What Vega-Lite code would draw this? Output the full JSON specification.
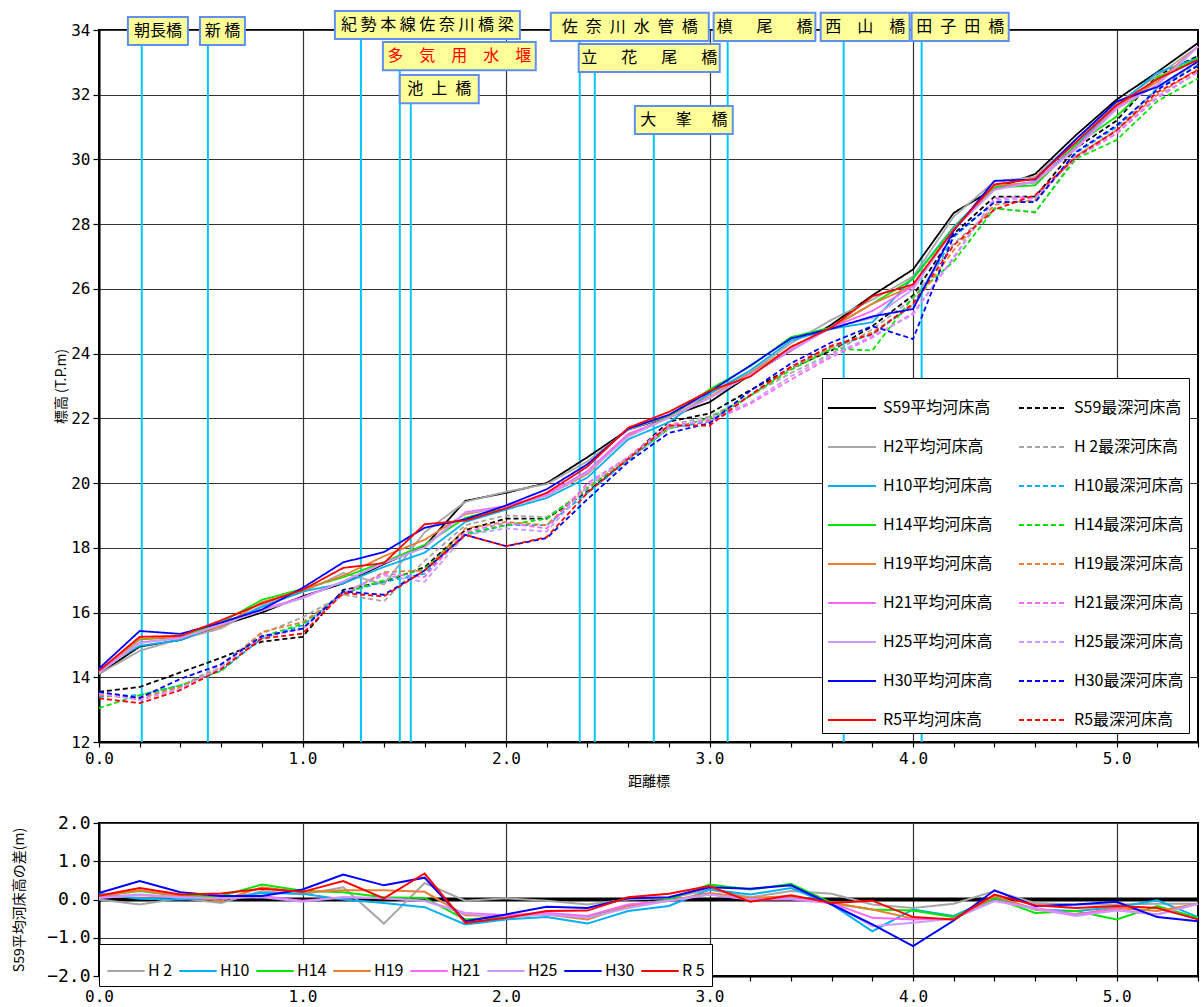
{
"$schema":"https://vega.github.io/schema/vega-lite/v6.json",
"padding":{"left":11,"top":8,"right":1,"bottom":2},
"background":"white",
"datasets":{
"series":[
{"code":"S59m","label":"S59平均河床高"},{"code":"S59d","label":"S59最深河床高"},
{"code":"H2m","label":"H2平均河床高"},{"code":"H2d","label":"H 2最深河床高"},
{"code":"H10m","label":"H10平均河床高"},{"code":"H10d","label":"H10最深河床高"},
{"code":"H14m","label":"H14平均河床高"},{"code":"H14d","label":"H14最深河床高"},
{"code":"H19m","label":"H19平均河床高"},{"code":"H19d","label":"H19最深河床高"},
{"code":"H21m","label":"H21平均河床高"},{"code":"H21d","label":"H21最深河床高"},
{"code":"H25m","label":"H25平均河床高"},{"code":"H25d","label":"H25最深河床高"},
{"code":"H30m","label":"H30平均河床高"},{"code":"H30d","label":"H30最深河床高"},
{"code":"R5m","label":"R5平均河床高"},{"code":"R5d","label":"R5最深河床高"}],
"profile":[
{"k":0,"S59m":14.10,"S59d":13.55,"H2m":14.10,"H2d":13.5,"H10m":14.25,"H10d":13.4,"H14m":14.19,"H14d":13.05,"H19m":14.19,"H19d":13.45,"H21m":14.16,"H21d":13.5,"H25m":14.14,"H25d":13.5,"H30m":14.27,"H30d":13.55,"R5m":14.20,"R5d":13.35},
{"k":0.2,"S59m":14.95,"S59d":13.7,"H2m":14.82,"H2d":13.4,"H10m":14.97,"H10d":13.45,"H14m":15.17,"H14d":13.45,"H19m":15.19,"H19d":13.35,"H21m":15.08,"H21d":13.3,"H25m":15.06,"H25d":13.3,"H30m":15.43,"H30d":13.36,"R5m":15.25,"R5d":13.2},
{"k":0.4,"S59m":15.15,"S59d":14.15,"H2m":15.18,"H2d":13.7,"H10m":15.15,"H10d":13.75,"H14m":15.24,"H14d":13.75,"H19m":15.24,"H19d":13.7,"H21m":15.21,"H21d":13.65,"H25m":15.21,"H25d":13.65,"H30m":15.34,"H30d":13.95,"R5m":15.28,"R5d":13.6},
{"k":0.6,"S59m":15.60,"S59d":14.6,"H2m":15.51,"H2d":14.4,"H10m":15.63,"H10d":14.2,"H14m":15.69,"H14d":14.2,"H19m":15.57,"H19d":14.3,"H21m":15.63,"H21d":14.3,"H25m":15.63,"H25d":14.3,"H30m":15.69,"H30d":14.4,"R5m":15.76,"R5d":14.25},
{"k":0.8,"S59m":16.00,"S59d":15.1,"H2m":16.22,"H2d":15.35,"H10m":16.17,"H10d":15.2,"H14m":16.39,"H14d":15.25,"H19m":16.32,"H19d":15.4,"H21m":16.09,"H21d":15.25,"H25m":16.06,"H25d":15.25,"H30m":16.09,"H30d":15.27,"R5m":16.28,"R5d":15.2},
{"k":1.0,"S59m":16.50,"S59d":15.25,"H2m":16.63,"H2d":15.85,"H10m":16.65,"H10d":15.6,"H14m":16.73,"H14d":15.65,"H19m":16.69,"H19d":15.7,"H21m":16.47,"H21d":15.5,"H25m":16.44,"H25d":15.5,"H30m":16.76,"H30d":15.5,"R5m":16.70,"R5d":15.35},
{"k":1.2,"S59m":16.90,"S59d":16.7,"H2m":17.22,"H2d":16.55,"H10m":16.90,"H10d":16.6,"H14m":17.09,"H14d":16.6,"H19m":17.14,"H19d":16.55,"H21m":16.96,"H21d":16.6,"H25m":16.96,"H25d":16.6,"H30m":17.55,"H30d":16.65,"R5m":17.38,"R5d":16.6},
{"k":1.4,"S59m":17.50,"S59d":16.95,"H2m":16.87,"H2d":16.35,"H10m":17.41,"H10d":16.95,"H14m":17.56,"H14d":17.0,"H19m":17.74,"H19d":17.25,"H21m":17.53,"H21d":17.2,"H25m":17.53,"H25d":17.15,"H30m":17.87,"H30d":16.55,"R5m":17.53,"R5d":16.5},
{"k":1.6,"S59m":18.05,"S59d":17.4,"H2m":18.48,"H2d":17.6,"H10m":17.85,"H10d":17.2,"H14m":18.09,"H14d":17.35,"H19m":18.25,"H19d":17.3,"H21m":18.02,"H21d":17.1,"H25m":18.01,"H25d":16.95,"H30m":18.62,"H30d":17.3,"R5m":18.73,"R5d":17.3},
{"k":1.8,"S59m":19.45,"S59d":18.55,"H2m":19.42,"H2d":18.7,"H10m":18.80,"H10d":18.4,"H14m":18.93,"H14d":18.45,"H19m":19.04,"H19d":18.6,"H21m":19.10,"H21d":18.5,"H25m":19.08,"H25d":18.4,"H30m":18.88,"H30d":18.4,"R5m":18.84,"R5d":18.4},
{"k":2.0,"S59m":19.70,"S59d":18.9,"H2m":19.73,"H2d":19.0,"H10m":19.18,"H10d":18.7,"H14m":19.24,"H14d":18.7,"H19m":19.27,"H19d":18.8,"H21m":19.29,"H21d":18.77,"H25m":19.24,"H25d":18.6,"H30m":19.31,"H30d":18.05,"R5m":19.22,"R5d":18.05},
{"k":2.2,"S59m":20.00,"S59d":18.9,"H2m":19.97,"H2d":18.95,"H10m":19.54,"H10d":18.7,"H14m":19.63,"H14d":18.9,"H19m":19.61,"H19d":18.7,"H21m":19.65,"H21d":18.6,"H25m":19.61,"H25d":18.5,"H30m":19.81,"H30d":18.3,"R5m":19.70,"R5d":18.33},
{"k":2.4,"S59m":20.80,"S59d":19.75,"H2m":20.67,"H2d":19.8,"H10m":20.17,"H10d":19.7,"H14m":20.34,"H14d":19.85,"H19m":20.28,"H19d":19.9,"H21m":20.37,"H21d":20.0,"H25m":20.32,"H25d":19.9,"H30m":20.58,"H30d":19.5,"R5m":20.51,"R5d":19.7},
{"k":2.6,"S59m":21.65,"S59d":20.75,"H2m":21.65,"H2d":20.8,"H10m":21.35,"H10d":20.7,"H14m":21.48,"H14d":20.75,"H19m":21.48,"H19d":20.75,"H21m":21.52,"H21d":20.8,"H25m":21.43,"H25d":20.8,"H30m":21.68,"H30d":20.65,"R5m":21.71,"R5d":20.75},
{"k":2.8,"S59m":22.05,"S59d":21.9,"H2m":22.08,"H2d":21.8,"H10m":21.88,"H10d":21.7,"H14m":22.05,"H14d":21.68,"H19m":22.02,"H19d":21.75,"H21m":22.01,"H21d":21.8,"H25m":22.02,"H25d":21.7,"H30m":22.11,"H30d":21.55,"R5m":22.20,"R5d":21.78},
{"k":3.0,"S59m":22.50,"S59d":22.15,"H2m":22.76,"H2d":22.05,"H10m":22.76,"H10d":21.9,"H14m":22.89,"H14d":22.0,"H19m":22.67,"H19d":21.95,"H21m":22.63,"H21d":21.9,"H25m":22.63,"H25d":22.0,"H30m":22.82,"H30d":21.85,"R5m":22.85,"R5d":21.78},
{"k":3.2,"S59m":23.35,"S59d":22.87,"H2m":23.41,"H2d":22.7,"H10m":23.48,"H10d":22.7,"H14m":23.61,"H14d":22.7,"H19m":23.39,"H19d":22.7,"H21m":23.35,"H21d":22.45,"H25m":23.35,"H25d":22.5,"H30m":23.63,"H30d":22.85,"R5m":23.29,"R5d":22.72},
{"k":3.4,"S59m":24.10,"S59d":23.55,"H2m":24.32,"H2d":23.4,"H10m":24.40,"H10d":23.55,"H14m":24.51,"H14d":23.5,"H19m":24.19,"H19d":23.55,"H21m":24.10,"H21d":23.2,"H25m":24.13,"H25d":23.3,"H30m":24.47,"H30d":23.7,"R5m":24.21,"R5d":23.6},
{"k":3.6,"S59m":24.90,"S59d":24.1,"H2m":25.05,"H2d":24.0,"H10m":24.77,"H10d":24.2,"H14m":24.81,"H14d":24.15,"H19m":24.81,"H19d":24.2,"H21m":24.81,"H21d":23.9,"H25m":24.81,"H25d":23.95,"H30m":24.77,"H30d":24.35,"R5m":24.81,"R5d":24.25},
{"k":3.8,"S59m":25.80,"S59d":24.85,"H2m":25.67,"H2d":24.75,"H10m":24.97,"H10d":24.6,"H14m":25.54,"H14d":24.1,"H19m":25.54,"H19d":24.65,"H21m":25.32,"H21d":24.5,"H25m":25.10,"H25d":24.55,"H30m":25.15,"H30d":24.85,"R5m":25.77,"R5d":24.6},
{"k":4.0,"S59m":26.60,"S59d":25.8,"H2m":26.38,"H2d":25.7,"H10m":26.34,"H10d":25.5,"H14m":26.31,"H14d":25.75,"H19m":26.10,"H19d":25.5,"H21m":26.08,"H21d":25.25,"H25m":25.99,"H25d":25.2,"H30m":25.38,"H30d":24.45,"R5m":26.14,"R5d":25.55},
{"k":4.2,"S59m":28.35,"S59d":27.7,"H2m":28.24,"H2d":27.4,"H10m":27.92,"H10d":27.6,"H14m":27.89,"H14d":26.85,"H19m":27.83,"H19d":27.2,"H21m":27.85,"H21d":26.95,"H25m":27.85,"H25d":27.0,"H30m":27.80,"H30d":27.65,"R5m":27.83,"R5d":27.35},
{"k":4.4,"S59m":29.10,"S59d":28.85,"H2m":29.32,"H2d":28.5,"H10m":29.16,"H10d":28.7,"H14m":29.13,"H14d":28.48,"H19m":29.19,"H19d":28.6,"H21m":29.07,"H21d":28.8,"H25m":29.06,"H25d":28.75,"H30m":29.34,"H30d":28.68,"R5m":29.23,"R5d":28.45},
{"k":4.6,"S59m":29.55,"S59d":28.85,"H2m":29.46,"H2d":28.35,"H10m":29.29,"H10d":28.7,"H14m":29.20,"H14d":28.38,"H19m":29.29,"H19d":28.75,"H21m":29.33,"H21d":28.85,"H25m":29.31,"H25d":28.8,"H30m":29.38,"H30d":28.68,"R5m":29.40,"R5d":28.9},
{"k":4.8,"S59m":30.75,"S59d":30.35,"H2m":30.62,"H2d":30.1,"H10m":30.45,"H10d":30.2,"H14m":30.45,"H14d":30.02,"H19m":30.36,"H19d":30.1,"H21m":30.36,"H21d":30.05,"H25m":30.32,"H25d":30.1,"H30m":30.62,"H30d":30.23,"R5m":30.53,"R5d":30.08},
{"k":5.0,"S59m":31.85,"S59d":31.2,"H2m":31.72,"H2d":30.9,"H10m":31.65,"H10d":31.0,"H14m":31.33,"H14d":30.6,"H19m":31.63,"H19d":30.9,"H21m":31.59,"H21d":30.8,"H25m":31.56,"H25d":30.85,"H30m":31.79,"H30d":31.05,"R5m":31.68,"R5d":30.9},
{"k":5.2,"S59m":32.70,"S59d":32.6,"H2m":32.59,"H2d":32.2,"H10m":32.68,"H10d":32.2,"H14m":32.53,"H14d":31.8,"H19m":32.40,"H19d":32.0,"H21m":32.31,"H21d":31.9,"H25m":32.31,"H25d":31.95,"H30m":32.24,"H30d":32.15,"R5m":32.48,"R5d":32.08},
{"k":5.4,"S59m":33.60,"S59d":33.2,"H2m":33.49,"H2d":33.0,"H10m":33.14,"H10d":32.9,"H14m":33.12,"H14d":32.5,"H19m":33.49,"H19d":32.8,"H21m":33.49,"H21d":32.7,"H25m":33.49,"H25d":32.7,"H30m":33.03,"H30d":32.9,"R5m":33.08,"R5d":32.76}
],
"diff":[
{"k":0,"H 2":0.00,"H10":0.15,"H14":0.09,"H19":0.09,"H21":0.06,"H25":0.04,"H30":0.17,"R 5":0.10},
{"k":0.2,"H 2":-0.13,"H10":0.02,"H14":0.22,"H19":0.24,"H21":0.13,"H25":0.11,"H30":0.48,"R 5":0.30},
{"k":0.4,"H 2":0.03,"H10":0.00,"H14":0.09,"H19":0.09,"H21":0.06,"H25":0.06,"H30":0.19,"R 5":0.13},
{"k":0.6,"H 2":-0.09,"H10":0.03,"H14":0.09,"H19":-0.03,"H21":0.03,"H25":0.03,"H30":0.09,"R 5":0.16},
{"k":0.8,"H 2":0.22,"H10":0.17,"H14":0.39,"H19":0.32,"H21":0.09,"H25":0.06,"H30":0.09,"R 5":0.28},
{"k":1.0,"H 2":0.13,"H10":0.15,"H14":0.23,"H19":0.19,"H21":-0.03,"H25":-0.06,"H30":0.26,"R 5":0.20},
{"k":1.2,"H 2":0.32,"H10":0.00,"H14":0.19,"H19":0.24,"H21":0.06,"H25":0.06,"H30":0.65,"R 5":0.48},
{"k":1.4,"H 2":-0.63,"H10":-0.09,"H14":0.06,"H19":0.24,"H21":0.03,"H25":0.03,"H30":0.37,"R 5":0.03},
{"k":1.6,"H 2":0.43,"H10":-0.20,"H14":0.04,"H19":0.20,"H21":-0.03,"H25":-0.04,"H30":0.57,"R 5":0.68},
{"k":1.8,"H 2":-0.03,"H10":-0.65,"H14":-0.52,"H19":-0.41,"H21":-0.35,"H25":-0.37,"H30":-0.57,"R 5":-0.61},
{"k":2.0,"H 2":0.03,"H10":-0.52,"H14":-0.46,"H19":-0.43,"H21":-0.41,"H25":-0.46,"H30":-0.39,"R 5":-0.48},
{"k":2.2,"H 2":-0.03,"H10":-0.46,"H14":-0.37,"H19":-0.39,"H21":-0.35,"H25":-0.39,"H30":-0.19,"R 5":-0.30},
{"k":2.4,"H 2":-0.13,"H10":-0.63,"H14":-0.46,"H19":-0.52,"H21":-0.43,"H25":-0.48,"H30":-0.22,"R 5":-0.29},
{"k":2.6,"H 2":0.00,"H10":-0.30,"H14":-0.17,"H19":-0.17,"H21":-0.13,"H25":-0.22,"H30":0.03,"R 5":0.06},
{"k":2.8,"H 2":0.03,"H10":-0.17,"H14":0.00,"H19":-0.03,"H21":-0.04,"H25":-0.03,"H30":0.06,"R 5":0.15},
{"k":3.0,"H 2":0.26,"H10":0.26,"H14":0.39,"H19":0.17,"H21":0.13,"H25":0.13,"H30":0.32,"R 5":0.35},
{"k":3.2,"H 2":0.06,"H10":0.13,"H14":0.26,"H19":0.04,"H21":0.00,"H25":0.00,"H30":0.28,"R 5":-0.06},
{"k":3.4,"H 2":0.22,"H10":0.30,"H14":0.41,"H19":0.09,"H21":0.00,"H25":0.03,"H30":0.37,"R 5":0.11},
{"k":3.6,"H 2":0.15,"H10":-0.13,"H14":-0.09,"H19":-0.09,"H21":-0.09,"H25":-0.09,"H30":-0.13,"R 5":-0.09},
{"k":3.8,"H 2":-0.13,"H10":-0.83,"H14":-0.26,"H19":-0.26,"H21":-0.48,"H25":-0.70,"H30":-0.65,"R 5":-0.03},
{"k":4.0,"H 2":-0.22,"H10":-0.26,"H14":-0.29,"H19":-0.50,"H21":-0.52,"H25":-0.61,"H30":-1.22,"R 5":-0.46},
{"k":4.2,"H 2":-0.11,"H10":-0.43,"H14":-0.46,"H19":-0.52,"H21":-0.50,"H25":-0.50,"H30":-0.55,"R 5":-0.52},
{"k":4.4,"H 2":0.22,"H10":0.06,"H14":0.03,"H19":0.09,"H21":-0.03,"H25":-0.04,"H30":0.24,"R 5":0.13},
{"k":4.6,"H 2":-0.09,"H10":-0.26,"H14":-0.35,"H19":-0.26,"H21":-0.22,"H25":-0.24,"H30":-0.17,"R 5":-0.15},
{"k":4.8,"H 2":-0.13,"H10":-0.30,"H14":-0.30,"H19":-0.39,"H21":-0.39,"H25":-0.43,"H30":-0.13,"R 5":-0.22},
{"k":5.0,"H 2":-0.13,"H10":-0.20,"H14":-0.52,"H19":-0.22,"H21":-0.26,"H25":-0.29,"H30":-0.06,"R 5":-0.17},
{"k":5.2,"H 2":-0.11,"H10":-0.02,"H14":-0.17,"H19":-0.30,"H21":-0.39,"H25":-0.39,"H30":-0.46,"R 5":-0.22},
{"k":5.4,"H 2":-0.11,"H10":-0.46,"H14":-0.48,"H19":-0.11,"H21":-0.11,"H25":-0.11,"H30":-0.57,"R 5":-0.52}
],
"bridges":[
{"name":"朝長橋","label":"朝長橋","kind":"橋","km":0.21,"x1":0.142,"x2":0.437,"lo":33.54,"hi":34.40},
{"name":"新橋","label":"新 橋","kind":"橋","km":0.535,"x1":0.496,"x2":0.717,"lo":33.54,"hi":34.40},
{"name":"紀勢本線佐奈川橋梁","label":"紀 勢 本 線 佐 奈 川 橋 梁","kind":"橋","km":1.287,"x1":1.159,"x2":2.068,"lo":33.72,"hi":34.59},
{"name":"多気用水堰","label":"多\u3000気\u3000用\u3000水\u3000堰","kind":"堰","km":1.478,"x1":1.395,"x2":2.146,"lo":32.76,"hi":33.63},
{"name":"池上橋","label":"池\u2002上\u2002橋","kind":"橋","km":1.532,"x1":1.478,"x2":1.866,"lo":31.74,"hi":32.61},
{"name":"佐奈川水管橋","label":"佐\u2002奈\u2002川\u2002水\u2002管\u2002橋","kind":"橋","km":2.362,"x1":2.22,"x2":2.996,"lo":33.66,"hi":34.53},
{"name":"立花尾橋","label":"立\u3000\u2002花\u3000\u2002尾\u3000\u2002橋","kind":"橋","km":2.436,"x1":2.357,"x2":3.05,"lo":32.70,"hi":33.57},
{"name":"大峯橋","label":"大\u3000 峯\u3000 橋","kind":"橋","km":2.726,"x1":2.633,"x2":3.114,"lo":30.79,"hi":31.65},
{"name":"槙尾橋","label":"槙\u3000\u2002尾\u3000\u2002橋","kind":"橋","km":3.089,"x1":3.02,"x2":3.52,"lo":33.66,"hi":34.53},
{"name":"西山橋","label":"西\u3000山\u3000橋","kind":"橋","km":3.659,"x1":3.546,"x2":3.983,"lo":33.66,"hi":34.53},
{"name":"田子田橋","label":"田\u2002子\u2002田\u2002橋","kind":"橋","km":4.042,"x1":3.993,"x2":4.47,"lo":33.66,"hi":34.53}
]
},
"config":{
"font":"Noto Sans CJK JP",
"view":{"stroke":"#000","strokeWidth":2},
"axis":{"labelFont":"DejaVu Sans Mono","labelFontSize":16,"labelColor":"#000","titleFont":"Noto Sans CJK JP","titleFontSize":14,"titleFontWeight":"normal","titleColor":"#000","gridColor":"#333","gridWidth":1.2,"gridOpacity":1,"tickColor":"#000","domainColor":"#000","domainWidth":2,"tickWidth":1.2,"tickSize":6,"labelPadding":3,"labelOverlap":false,"labelFlush":false}
},
"spacing":24,
"resolve":{"scale":{"color":"independent","strokeDash":"independent"},"legend":{"color":"independent","strokeDash":"independent"}},
"vconcat":[
{
"width":1099,"height":712,
"layer":[
{"data":{"name":"bridges"},"mark":{"type":"rule","color":"#00C8F8","strokeWidth":2},
 "encoding":{"x":{"field":"km","type":"quantitative"},"y":{"field":"lo","type":"quantitative"},"y2":{"datum":12}}},
{"data":{"name":"profile"},
 "transform":[{"fold":["S59d","H2d","H10d","H14d","H19d","H21d","H25d","H30d","R5d","S59m","H2m","H10m","H14m","H19m","H21m","H25m","H30m","R5m"],"as":["code","z"]},
  {"lookup":"code","from":{"data":{"name":"series"},"key":"code","fields":["label"]}}],
 "mark":{"type":"line","strokeWidth":1.8},
 "encoding":{
  "x":{"field":"k","type":"quantitative","scale":{"domain":[0,5.4],"nice":false,"zero":false},
   "axis":{"values":[0,0.2,0.4,0.6,0.8,1,1.2,1.4,1.6,1.8,2,2.2,2.4,2.6,2.8,3,3.2,3.4,3.6,3.8,4,4.2,4.4,4.6,4.8,5,5.2,5.4],
    "labelExpr":"abs(datum.value - round(datum.value)) < 0.01 ? format(datum.value, '.1f') : ''",
    "gridOpacity":{"condition":{"test":"abs(datum.value - round(datum.value)) < 0.01","value":1},"value":0},
    "tickSize":5,"title":"距離標","titlePadding":8}},
  "y":{"field":"z","type":"quantitative","scale":{"domain":[12,34],"nice":false,"zero":false},
   "axis":{"values":[12,14,16,18,20,22,24,26,28,30,32,34],"title":"標高 (T.P.m)","titlePadding":2}},
  "color":{"field":"label","type":"nominal",
   "scale":{"domain":["S59平均河床高","H2平均河床高","H10平均河床高","H14平均河床高","H19平均河床高","H21平均河床高","H25平均河床高","H30平均河床高","R5平均河床高","S59最深河床高","H 2最深河床高","H10最深河床高","H14最深河床高","H19最深河床高","H21最深河床高","H25最深河床高","H30最深河床高","R5最深河床高"],
    "range":["#000000","#A6A6A6","#00B0F0","#00E600","#ED7D31","#FF66FF","#CC99FF","#0000FF","#FF0000","#000000","#A6A6A6","#00B0F0","#00E600","#ED7D31","#FF66FF","#CC99FF","#0000FF","#FF0000"]},
   "legend":{"title":null,"orient":"none","legendX":723,"legendY":348,"columns":2,"symbolType":"stroke","symbolSize":2304,"symbolStrokeWidth":2,"labelFont":"Noto Sans CJK JP","labelFontSize":16,"labelColor":"#000","labelLimit":300,"labelOffset":6,"rowPadding":6,"columnPadding":22,"padding":5,"fillColor":"#fff","strokeColor":"#000"}},
  "strokeDash":{"field":"label","type":"nominal",
   "scale":{"domain":["S59平均河床高","H2平均河床高","H10平均河床高","H14平均河床高","H19平均河床高","H21平均河床高","H25平均河床高","H30平均河床高","R5平均河床高","S59最深河床高","H 2最深河床高","H10最深河床高","H14最深河床高","H19最深河床高","H21最深河床高","H25最深河床高","H30最深河床高","R5最深河床高"],
    "range":[[1,0],[1,0],[1,0],[1,0],[1,0],[1,0],[1,0],[1,0],[1,0],[5,3],[5,3],[5,3],[5,3],[5,3],[5,3],[5,3],[5,3],[5,3]]},
   "legend":{"title":null,"orient":"none","legendX":723,"legendY":348,"columns":2,"symbolType":"stroke","symbolSize":2304,"symbolStrokeWidth":2,"labelFont":"Noto Sans CJK JP","labelFontSize":16,"labelColor":"#000","labelLimit":300,"labelOffset":6,"rowPadding":6,"columnPadding":22,"padding":5,"fillColor":"#fff","strokeColor":"#000"}}
 }},
{"data":{"name":"bridges"},"mark":{"type":"rect","fill":"#FFFF99","stroke":"#5F8FF0","strokeWidth":2},
 "encoding":{"x":{"field":"x1","type":"quantitative"},"x2":{"field":"x2"},"y":{"field":"lo","type":"quantitative"},"y2":{"field":"hi"}}},
{"data":{"name":"bridges"},
 "transform":[{"calculate":"(datum.x1 + datum.x2) / 2","as":"xc"},{"calculate":"(datum.lo + datum.hi) / 2","as":"yc"}],
 "mark":{"type":"text","font":"Noto Sans CJK JP","fontSize":16,"align":"center","baseline":"middle"},
 "encoding":{"x":{"field":"xc","type":"quantitative"},"y":{"field":"yc","type":"quantitative"},"text":{"field":"label","type":"nominal"},
  "fill":{"field":"kind","type":"nominal","scale":{"domain":["橋","堰"],"range":["#000000","#FF0000"]},"legend":null}}}
]
},
{
"width":1099,"height":153,
"layer":[
{"data":{"values":[{"d":0}]},"mark":{"type":"rule","color":"#000","strokeWidth":4},
 "encoding":{"y":{"field":"d","type":"quantitative","scale":{"domain":[-2,2],"nice":false,"zero":false},
   "axis":{"values":[-2,-1,0,1,2],"format":".1f","labelFontSize":18,"title":"S59平均河床高の差(m)","titlePadding":20}}}},
{"data":{"name":"diff"},
 "transform":[{"fold":["H 2","H10","H14","H19","H21","H25","H30","R 5"],"as":["series","d"]}],
 "mark":{"type":"line","strokeWidth":2},
 "encoding":{
  "x":{"field":"k","type":"quantitative","scale":{"domain":[0,5.4],"nice":false,"zero":false},
   "axis":{"values":[0,0.2,0.4,0.6,0.8,1,1.2,1.4,1.6,1.8,2,2.2,2.4,2.6,2.8,3,3.2,3.4,3.6,3.8,4,4.2,4.4,4.6,4.8,5,5.2,5.4],
    "labelExpr":"abs(datum.value - round(datum.value)) < 0.01 ? format(datum.value, '.1f') : ''",
    "gridOpacity":{"condition":{"test":"abs(datum.value - round(datum.value)) < 0.01","value":1},"value":0},
    "tickSize":5,"labelPadding":7,"title":null}},
  "y":{"field":"d","type":"quantitative","scale":{"domain":[-2,2],"nice":false,"zero":false},
   "axis":{"values":[-2,-1,0,1,2],"format":".1f","labelFontSize":18,"title":"S59平均河床高の差(m)","titlePadding":20}},
  "color":{"field":"series","type":"nominal",
   "scale":{"domain":["H 2","H10","H14","H19","H21","H25","H30","R 5"],"range":["#A6A6A6","#00B0F0","#00E600","#ED7D31","#FF66FF","#CC99FF","#0000FF","#FF0000"]},
   "legend":{"title":null,"orient":"none","legendX":0,"legendY":121,"direction":"horizontal","symbolType":"stroke","symbolSize":1400,"symbolStrokeWidth":2,"labelFont":"Noto Sans CJK JP","labelFontSize":16,"labelColor":"#000","labelOffset":2,"columnPadding":2,"padding":7,"fillColor":"#fff","strokeColor":"#000"}}
 }}
]
}
]
}
